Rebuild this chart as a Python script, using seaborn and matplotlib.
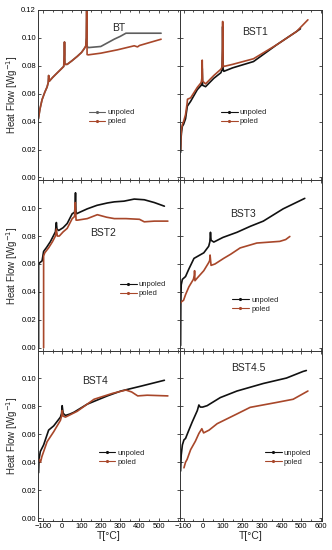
import numpy as np
import pandas as pd
import matplotlib
matplotlib.use('Agg')
import matplotlib.pyplot as plt
from matplotlib.lines import Line2D
from matplotlib.ticker import MultipleLocator
import seaborn as sns

# heat flow curves, T in degC, heat flow in W/g
bt_unpoled_T = [-123, -115, -104, -90, -78, -72, -70, -66, -50, -35, -10, 8, 11, 12, 14, 26, 50, 78, 100, 113, 122, 125, 127, 129, 135, 200, 269, 300, 330, 400, 512]
bt_unpoled_hf = [0.042, 0.049, 0.0557, 0.061, 0.0648, 0.068, 0.073, 0.069, 0.0715, 0.0736, 0.077, 0.0795, 0.088, 0.097, 0.081, 0.081, 0.0835, 0.0867, 0.0895, 0.092, 0.094, 0.1, 0.125, 0.094, 0.093, 0.0938, 0.099, 0.101, 0.1033, 0.1033, 0.1033]
bt_poled_T = [-123, -115, -104, -90, -78, -72, -70, -66, -50, -35, -10, 8, 11, 12, 14, 26, 50, 78, 100, 113, 122, 125, 127, 129, 135, 200, 286, 373, 390, 400, 442, 512]
bt_poled_hf = [0.042, 0.049, 0.0557, 0.061, 0.0648, 0.068, 0.073, 0.069, 0.0715, 0.0736, 0.077, 0.0795, 0.088, 0.097, 0.081, 0.081, 0.0835, 0.0867, 0.0895, 0.092, 0.094, 0.1, 0.125, 0.088, 0.0878, 0.089, 0.0914, 0.0943, 0.0935, 0.0945, 0.0962, 0.099]

bst1_unpoled_T = [-115, -113, -110, -106, -100, -90, -81, -64, -30, -10, -6, -5, -3, 12, 54, 90, 96, 98, 99, 101, 105, 150, 256, 374, 475, 495]
bst1_unpoled_hf = [0.018, 0.028, 0.033, 0.0367, 0.038, 0.042, 0.051, 0.0545, 0.0629, 0.066, 0.07, 0.078, 0.066, 0.065, 0.071, 0.075, 0.077, 0.09, 0.108, 0.078, 0.076, 0.0785, 0.083, 0.095, 0.1045, 0.1065]
bst1_poled_T = [-115, -113, -110, -106, -100, -90, -82, -80, -64, -30, -10, -6, -5, -3, 12, 54, 90, 96, 98, 99, 101, 105, 150, 256, 374, 475, 533]
bst1_poled_hf = [0.02, 0.03, 0.035, 0.038, 0.04, 0.045, 0.053, 0.056, 0.057, 0.0645, 0.068, 0.072, 0.084, 0.069, 0.067, 0.073, 0.0775, 0.079, 0.092, 0.1117, 0.081, 0.0795, 0.081, 0.085, 0.095, 0.1045, 0.1129]

bst2_unpoled_T = [-122, -122, -115, -104, -96, -80, -61, -35, -32, -30, -27, -18, 5, 26, 52, 64, 67, 69, 71, 75, 90, 130, 180, 234, 270, 320, 373, 425, 477, 529]
bst2_unpoled_hf = [0.0, 0.06, 0.061, 0.0622, 0.069, 0.072, 0.076, 0.083, 0.087, 0.0897, 0.085, 0.084, 0.086, 0.089, 0.096, 0.097, 0.101, 0.111, 0.098, 0.096, 0.097, 0.0995, 0.102, 0.1037, 0.1045, 0.105, 0.1065, 0.106, 0.104, 0.1014]
bst2_poled_T = [-96, -96, -90, -70, -50, -35, -30, -25, -15, 5, 26, 52, 64, 68, 72, 80, 130, 182, 230, 270, 330, 400, 425, 477, 547]
bst2_poled_hf = [0.0, 0.0657, 0.068, 0.0716, 0.076, 0.08, 0.085, 0.08, 0.08, 0.083, 0.0855, 0.0925, 0.094, 0.104, 0.0914, 0.0914, 0.0925, 0.0953, 0.0935, 0.0925, 0.0925, 0.092, 0.0902, 0.0907, 0.0907]

bst3_unpoled_T = [-115, -114, -112, -106, -90, -73, -47, 3, 28, 34, 37, 40, 54, 100, 172, 240, 306, 407, 517]
bst3_unpoled_hf = [0.0016, 0.03, 0.045, 0.049, 0.051, 0.0564, 0.064, 0.068, 0.0727, 0.076, 0.0827, 0.077, 0.0757, 0.079, 0.0827, 0.087, 0.0907, 0.0995, 0.107]
bst3_poled_T = [-115, -110, -100, -90, -73, -50, -45, -44, -42, -30, 3, 28, 33, 35, 40, 60, 104, 140, 188, 273, 390, 420, 441]
bst3_poled_hf = [0.032, 0.033, 0.034, 0.038, 0.0436, 0.049, 0.052, 0.0552, 0.048, 0.05, 0.0552, 0.061, 0.0625, 0.0664, 0.059, 0.06, 0.064, 0.067, 0.0715, 0.075, 0.0762, 0.0775, 0.0797]

bst4_unpoled_T = [-122, -120, -113, -96, -70, -44, -9, -3, 0, 5, 17, 40, 61, 130, 234, 304, 408, 529]
bst4_unpoled_hf = [0.0325, 0.042, 0.0477, 0.0524, 0.063, 0.066, 0.0723, 0.075, 0.0805, 0.075, 0.0735, 0.0745, 0.0758, 0.0816, 0.0875, 0.091, 0.0945, 0.0987]
bst4_poled_T = [-118, -112, -105, -78, -44, -9, -3, 0, 5, 17, 78, 165, 260, 330, 360, 391, 440, 547]
bst4_poled_hf = [0.042, 0.040, 0.044, 0.0547, 0.0618, 0.07, 0.073, 0.077, 0.073, 0.0723, 0.0765, 0.0851, 0.0893, 0.0917, 0.0903, 0.0875, 0.088, 0.0875]

bst45_unpoled_T = [-115, -112, -106, -98, -90, -73, -56, -30, -22, -15, -3, 20, 87, 172, 306, 424, 508, 525]
bst45_unpoled_hf = [0.0337, 0.045, 0.0524, 0.056, 0.057, 0.063, 0.0688, 0.077, 0.081, 0.0795, 0.0795, 0.0805, 0.0863, 0.091, 0.0964, 0.1003, 0.105, 0.1057]
bst45_poled_T = [-98, -90, -82, -64, -40, -22, -7, 2, 30, 71, 172, 239, 373, 458, 533]
bst45_poled_hf = [0.036, 0.040, 0.042, 0.049, 0.055, 0.0606, 0.064, 0.061, 0.063, 0.0676, 0.0746, 0.0793, 0.0828, 0.0851, 0.091]

panels = [
    ('BT', bt_unpoled_T, bt_unpoled_hf, bt_poled_T, bt_poled_hf),
    ('BST1', bst1_unpoled_T, bst1_unpoled_hf, bst1_poled_T, bst1_poled_hf),
    ('BST2', bst2_unpoled_T, bst2_unpoled_hf, bst2_poled_T, bst2_poled_hf),
    ('BST3', bst3_unpoled_T, bst3_unpoled_hf, bst3_poled_T, bst3_poled_hf),
    ('BST4', bst4_unpoled_T, bst4_unpoled_hf, bst4_poled_T, bst4_poled_hf),
    ('BST4.5', bst45_unpoled_T, bst45_unpoled_hf, bst45_poled_T, bst45_poled_hf),
]

# where the sample name and the legend sit in each panel (axes fraction)
label_pos = [(0.57, 0.895), (0.53, 0.87), (0.46, 0.69), (0.44, 0.80), (0.40, 0.82), (0.48, 0.895)]
legend_pos = [(0.52, 0.37), (0.45, 0.37), (0.74, 0.36), (0.53, 0.27), (0.59, 0.37), (0.76, 0.37)]

poled_color = '#a8472a'

sns.set_style('ticks')
plt.rcParams['font.family'] = ['Liberation Sans', 'DejaVu Sans']
plt.rcParams['axes.edgecolor'] = '#333333'
plt.rcParams['axes.linewidth'] = 0.7

fig, axes = plt.subplots(3, 2, figsize=(3.32, 5.5), dpi=100)
fig.subplots_adjust(left=0.1145, right=0.97, top=0.982, bottom=0.053, wspace=0, hspace=0)

for i, (name, uT, uhf, pT, phf) in enumerate(panels):
    ax = axes[i // 2, i % 2]
    unpoled_color = '#5e5e5e' if name == 'BT' else '#111111'
    df = pd.concat([
        pd.DataFrame({'T': uT, 'hf': uhf, 'sample': 'unpoled'}),
        pd.DataFrame({'T': pT, 'hf': phf, 'sample': 'poled'}),
    ])
    sns.lineplot(data=df, x='T', y='hf', hue='sample',
                 palette={'unpoled': unpoled_color, 'poled': poled_color},
                 estimator=None, sort=False, linewidth=1.2, legend=False, ax=ax)

    handles = [Line2D([], [], color=unpoled_color, lw=0.8, marker='.', ms=2.5),
               Line2D([], [], color=poled_color, lw=0.8, marker='.', ms=2.5)]
    ax.legend(handles, ['unpoled', 'poled'], loc='center', bbox_to_anchor=legend_pos[i],
              frameon=False, fontsize=5.5, handlelength=2.2, handletextpad=0.3,
              labelspacing=0.2, borderpad=0, numpoints=1)
    ax.text(label_pos[i][0], label_pos[i][1], name, transform=ax.transAxes,
            ha='center', va='center', fontsize=7.5)

    ax.set_ylim(-0.002, 0.12)
    if i % 2 == 0:
        ax.set_xlim(-125, 610)
    else:
        ax.set_xlim(-118, 605)
    ax.xaxis.set_major_locator(MultipleLocator(100))
    ax.xaxis.set_minor_locator(MultipleLocator(50))
    ax.tick_params(which='both', direction='in', top=True, right=True,
                   labelsize=5.5, width=0.6, pad=1.5, colors='#333333', labelcolor='black')
    ax.tick_params(which='major', length=2.5)
    ax.tick_params(which='minor', length=1.3)

    if i // 2 == 0:
        ax.set_yticks(np.arange(0, 0.121, 0.02))
    else:
        ax.set_yticks(np.arange(0, 0.101, 0.02))

    if i % 2 == 0:
        ax.set_yticklabels(['%.2f' % v for v in ax.get_yticks()])
        ax.set_ylabel('Heat Flow [Wg$^{-1}$]', fontsize=7, labelpad=1)
        ax.set_xticks(np.arange(-100, 501, 100))
    else:
        ax.set_yticklabels([])
        ax.set_ylabel('')
        ax.set_xticks(np.arange(-100, 601, 100))

    if i // 2 == 2:
        ax.set_xlabel('T[°C]', fontsize=7.5, labelpad=1)
    else:
        ax.set_xticklabels([])
        ax.set_xlabel('')

fig.savefig('out.png', dpi=100)
